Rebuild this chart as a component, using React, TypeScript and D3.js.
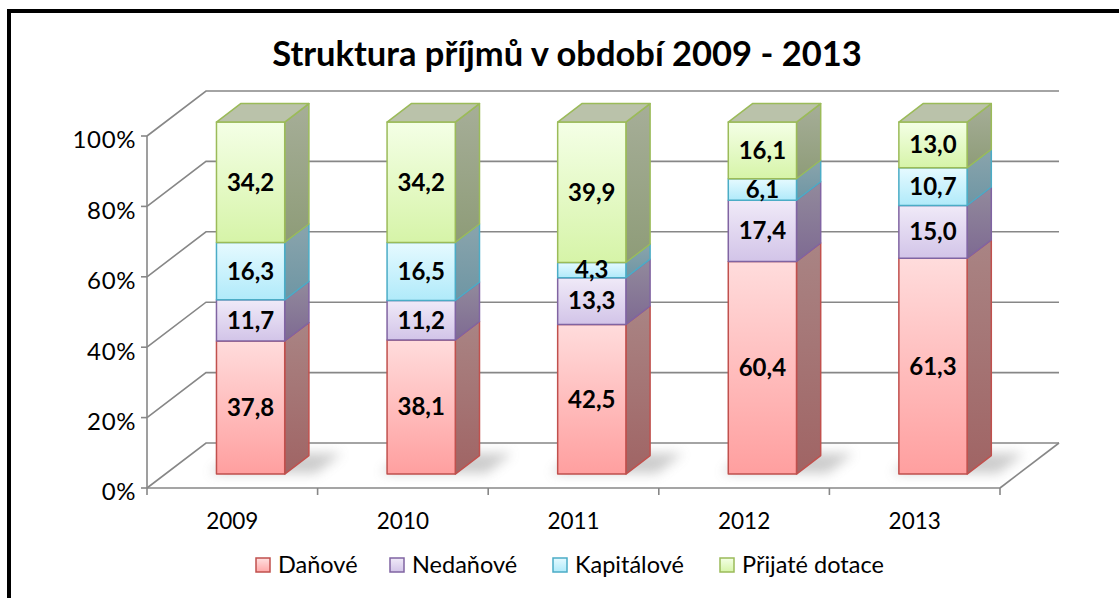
import React from "react";
import * as d3 from "d3";

const categories = ["2009", "2010", "2011", "2012", "2013"];
const seriesNames = ["Daňové", "Nedaňové", "Kapitálové", "Přijaté dotace"];
const danove = [37.8, 38.1, 42.5, 60.4, 61.3];
const nedanove = [11.7, 11.2, 13.3, 17.4, 15.0];
const kapitalove = [16.3, 16.5, 4.3, 6.1, 10.7];
const dotace = [34.2, 34.2, 39.9, 16.1, 13.0];
const yTicks = [0, 20, 40, 60, 80, 100];
const title = "Struktura příjmů v období 2009 - 2013";

const seriesValues = [danove, nedanove, kapitalove, dotace];

const styles = [
  { stroke: "#C0504D", top: "#FFDCDC", bottom: "#FF9F9F", sideTop: "#A98484", sideBottom: "#A06464", lTop: "#FFE0E0", lBot: "#FFA8A8" },
  { stroke: "#8064A2", top: "#F0EAF8", bottom: "#D2C4E8", sideTop: "#928A9C", sideBottom: "#7E6A92", lTop: "#F0EAF8", lBot: "#D2C4E8" },
  { stroke: "#4BACC6", top: "#E6FAFF", bottom: "#B0EAFA", sideTop: "#8AA4AC", sideBottom: "#6E96A4", lTop: "#E6FAFF", lBot: "#B0EAFA" },
  { stroke: "#9BBB59", top: "#F4FFE6", bottom: "#D6F4A8", sideTop: "#A6AE98", sideBottom: "#8E9C78", lTop: "#F4FFE6", lBot: "#D6F4A8" },
];

const FONT = "Lato, 'Open Sans', sans-serif";

export default function App() {
  const W = 1119, H = 598;
  const x0 = 147, x1 = 1000;
  const DX = 59, DY = -45;
  const y = d3.scaleLinear().domain([0, 100]).range([488, 136]);
  const xb = d3.scaleBand().domain(categories).range([x0, x1]).paddingInner(0.6).paddingOuter(0.3);
  const d0 = 0.31, d1 = 0.72;
  const P = (x: number, v: number, d: number): [number, number] => [x + d * DX, y(v) + d * DY];
  const poly = (pts: [number, number][]) => pts.map(p => p.join(",")).join(" ");
  const step = (x1 - x0) / categories.length;

  const stacks = categories.map((c, i) => {
    let acc = 0;
    return seriesValues.map((vals, s) => {
      const v0 = acc;
      acc += vals[i];
      return { s, v0, v1: acc, val: vals[i] };
    });
  });

  return (
    <svg width={W} height={H} style={{ position: "absolute", left: 0, top: 0, background: "#fff" }} fontFamily={FONT}>
      <defs>
        {styles.map((st, s) => (
          <React.Fragment key={s}>
            <linearGradient id={`f${s}`} x1="0" y1="0" x2="0" y2="1">
              <stop offset="0" stopColor={st.top} />
              <stop offset="1" stopColor={st.bottom} />
            </linearGradient>
            <linearGradient id={`sd${s}`} x1="0" y1="0" x2="0" y2="1">
              <stop offset="0" stopColor={st.sideTop} />
              <stop offset="1" stopColor={st.sideBottom} />
            </linearGradient>
            <linearGradient id={`l${s}`} x1="0" y1="0" x2="0" y2="1">
              <stop offset="0" stopColor={st.lTop} />
              <stop offset="1" stopColor={st.lBot} />
            </linearGradient>
          </React.Fragment>
        ))}
        <filter id="blur" x="-50%" y="-50%" width="200%" height="200%">
          <feGaussianBlur stdDeviation="6" />
        </filter>
      </defs>
      <rect x={0} y={0} width={W} height={H} fill="#fff" />
      <rect x={9} y={11} width={1300} height={800} fill="none" stroke="#000" strokeWidth={4} />

      <text x={567} y={66} textAnchor="middle" fontSize={34.5} fontWeight="bold" fill="#000">{title}</text>

      {/* gridlines */}
      <g stroke="#878787" strokeWidth={1.6} fill="none">
        {yTicks.map(t => (
          <polyline key={t} points={poly([P(x0, t, 0), P(x0, t, 1), P(x1, t, 1)])} />
        ))}
        <line x1={x0} y1={y(0)} x2={x0} y2={y(100)} />
        <line x1={x0} y1={y(0)} x2={x1} y2={y(0)} />
        <polyline points={poly([P(x1, 0, 0), P(x1, 0, 1)])} />
        {yTicks.map(t => (
          <line key={"t" + t} x1={x0 - 6} y1={y(t)} x2={x0} y2={y(t)} />
        ))}
        {d3.range(categories.length + 1).map(i => (
          <line key={"c" + i} x1={x0 + i * step} y1={y(0)} x2={x0 + i * step} y2={y(0) + 7} />
        ))}
      </g>

      {yTicks.map(t => (
        <text key={"yl" + t} x={136} y={y(t) + 4} dy="0.35em" textAnchor="end" fontSize={24} letterSpacing={0.6} fill="#000">{t}%</text>
      ))}
      {categories.map((c, i) => (
        <text key={"xl" + c} x={x0 + (i + 0.5) * step} y={521} dy="0.35em" textAnchor="middle" fontSize={22.5} fill="#000">{c}</text>
      ))}

      {/* shadows */}
      {categories.map((c) => {
        const bx = xb(c)!, bw = xb.bandwidth();
        return (
          <polygon key={"sh" + c} filter="url(#blur)" fill="#808080" opacity={0.4}
            points={poly([P(bx - 8, 0, d0 + 0.02), P(bx + bw + 30, 0, d0 + 0.02), P(bx + bw + 30, 0, d1 + 0.05), P(bx - 8, 0, d1 + 0.05)])} />
        );
      })}

      {/* bars */}
      {categories.map((c, i) => {
        const bx = xb(c)!, bw = xb.bandwidth();
        const segs = stacks[i];
        const last = segs[segs.length - 1];
        const st = styles[last.s];
        return (
          <g key={"b" + c}>
            {segs.map(sg => {
              const sty = styles[sg.s];
              return (
                <g key={sg.s} strokeLinejoin="round">
                  <polygon points={poly([P(bx + bw, sg.v0, d0), P(bx + bw, sg.v0, d1), P(bx + bw, sg.v1, d1), P(bx + bw, sg.v1, d0)])}
                    fill={`url(#sd${sg.s})`} stroke={sty.stroke} strokeWidth={1.5} />
                  <polygon points={poly([P(bx, sg.v0, d0), P(bx + bw, sg.v0, d0), P(bx + bw, sg.v1, d0), P(bx, sg.v1, d0)])}
                    fill={`url(#f${sg.s})`} stroke={sty.stroke} strokeWidth={1.5} />
                </g>
              );
            })}
            <polygon points={poly([P(bx, last.v1, d0), P(bx + bw, last.v1, d0), P(bx + bw, last.v1, d1), P(bx, last.v1, d1)])}
              fill="#BAC2AA" stroke={st.stroke} strokeWidth={1.5} strokeLinejoin="round" />
            {segs.map(sg => {
              const [cx, cy] = P(bx + bw / 2, (sg.v0 + sg.v1) / 2, d0);
              return (
                <text key={"lab" + sg.s} x={cx} y={cy} dy="0.35em" textAnchor="middle" fontSize={24} fontWeight="bold" fill="#000">
                  {sg.val.toFixed(1).replace(".", ",")}
                </text>
              );
            })}
          </g>
        );
      })}

      {/* legend */}
      {seriesNames.map((n, s) => {
        const lx = [256, 390, 553, 720][s];
        return (
          <g key={"lg" + n}>
            <rect x={lx} y={558} width={14} height={14} fill={`url(#l${s})`} stroke={styles[s].stroke} strokeWidth={1.5} />
            <text x={lx + 22} y={565} dy="0.35em" fontSize={23.5} fill="#000">{n}</text>
          </g>
        );
      })}
    </svg>
  );
}
